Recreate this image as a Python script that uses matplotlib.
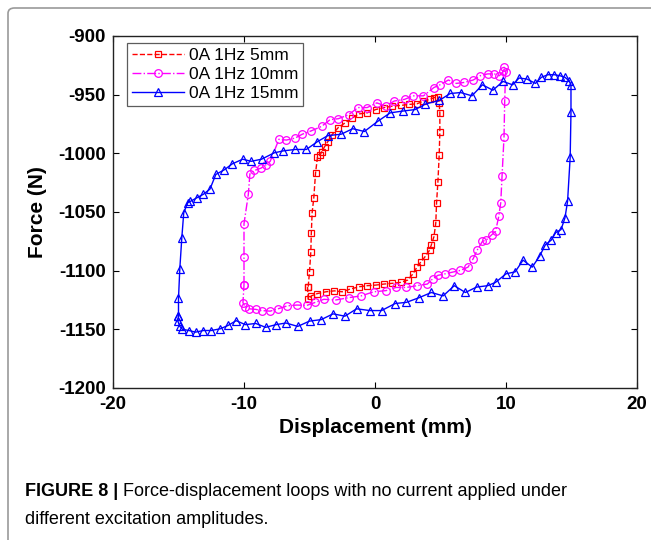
import matplotlib
matplotlib.use('Agg')
from matplotlib import pyplot as plt
from matplotlib.patches import FancyBboxPatch

plt.rcParams['font.family'] = ['Liberation Sans', 'DejaVu Sans']
plt.rcParams['axes.unicode_minus'] = False

# 0A 1Hz 5mm loop
x_5mm = [-5.1, -5.0, -4.9, -4.86, -4.8, -4.67, -4.54, -4.39, -4.2, -4.07, -3.85, -3.6, -3.3,
         -2.8, -2.3, -1.76, -1.2, -0.6, 0.05, 0.7, 1.3, 1.95, 2.6, 3.2, 3.7, 4.2, 4.5, 4.8,
         4.9, 4.95, 4.95, 4.9, 4.8, 4.7, 4.64, 4.5, 4.3, 4.17, 3.85, 3.5, 3.2, 2.9, 2.5,
         1.95, 1.3, 0.7, 0.05, -0.6, -1.2, -1.9, -2.5, -3.1, -3.75, -4.4, -4.86, -5.1, -5.15]
y_5mm = [-1113.7, -1101, -1084, -1067.5, -1050.7, -1037.7, -1017, -1003, -1001.6, -998.8, -994.4,
         -990, -984.3, -978, -974.2, -970, -966.4, -965.5, -962.7, -961, -959.8, -959.2, -958.3,
         -957.8, -955.5, -954, -952.5, -952, -956.9, -965.5, -981.4, -1001.6, -1024.7, -1042,
         -1059.4, -1071, -1078, -1082.5, -1087.7, -1092.6, -1097, -1102.7, -1108, -1110,
         -1110.8, -1111.4, -1112.3, -1112.8, -1113.7, -1115.7, -1118, -1117.2, -1118, -1119.5,
         -1121.5, -1124.4, -1113.7]

# 0A 1Hz 10mm loop
x_10mm = [-10.0, -10.0, -10.0, -9.67, -9.55, -9.2, -8.7, -8.35, -8.0, -7.33, -6.77, -6.1, -5.55,
          -4.9, -4.07, -3.43, -2.8, -2.0, -1.3, -0.6, 0.14, 0.84, 1.47, 2.26, 2.9, 3.7, 4.5,
          4.96, 5.6, 6.2, 6.8, 7.5, 8.05, 8.6, 9.1, 9.5, 9.8, 9.85, 9.97, 9.9, 9.85, 9.7, 9.6,
          9.45, 9.2, 8.9, 8.5, 8.2, 7.8, 7.5, 7.1, 6.5, 5.9, 5.35, 4.8, 4.4, 4.0, 3.2, 2.4,
          1.6, 0.84, -0.1, -1.06, -2.0, -3.0, -3.9, -4.55, -5.2, -5.97, -6.7, -7.4, -8.0,
          -8.66, -9.1, -9.6, -9.9, -10.08, -10.0]
y_10mm = [-1112, -1088, -1060, -1035, -1017.5, -1014.6, -1012.6, -1010, -1006.8, -988, -988.7,
          -987, -983.7, -981, -977, -971.3, -970.5, -967, -961, -961, -957, -959.8, -955.4,
          -954, -951, -951, -943.9, -941.6, -937.5, -940.4, -939.6, -937.5, -933.8, -932.3,
          -932.3, -933.8, -930, -926.6, -930.9, -955.4, -985.8, -1019, -1042, -1053.6,
          -1066.6, -1069.5, -1073.8, -1075, -1082.5, -1089.7, -1097, -1099.8, -1101.3,
          -1102.7, -1104, -1107, -1111.4, -1112.8, -1114.3, -1114.3, -1117, -1118, -1121.5,
          -1123, -1125, -1124.4, -1127, -1129.6, -1129.3, -1130, -1132.5, -1134.5, -1134,
          -1133, -1132.5, -1131, -1127.3, -1112]

# 0A 1Hz 15mm loop
x_15mm = [-15.0, -15.0, -14.9, -14.75, -14.6, -14.3, -14.1, -13.57, -13.1, -12.6, -12.15, -11.5,
          -10.9, -10.1, -9.45, -8.66, -7.7, -7.0, -6.1, -5.24, -4.39, -3.6, -2.58, -1.7, -0.81,
          0.2, 1.16, 2.1, 3.06, 3.85, 4.9, 5.75, 6.54, 7.4, 8.2, 9.0, 9.77, 10.5, 11.0, 11.6,
          12.25, 12.7, 13.2, 13.7, 14.1, 14.5, 14.8, 14.96, 14.96, 14.9, 14.7, 14.5, 14.2,
          13.8, 13.45, 13.0, 12.56, 12.0, 11.3, 10.7, 10.0, 9.2, 8.6, 7.75, 6.9, 6.05, 5.2,
          4.3, 3.37, 2.4, 1.54, 0.5, -0.4, -1.4, -2.3, -3.2, -4.1, -5.0, -5.9, -6.8, -7.55,
          -8.35, -9.1, -9.9, -10.6, -11.2, -11.8, -12.5, -13.1, -13.7, -14.2, -14.7, -14.9,
          -15.05, -15.0]
y_15mm = [-1138.8, -1123.5, -1098.4, -1072.4, -1050.7, -1042, -1041, -1037.7, -1034.9, -1030.5,
          -1018, -1014, -1009, -1005, -1006.8, -1005, -999.6, -997.9, -996.7, -996.7, -990,
          -984.9, -983.7, -979, -981.4, -972.8, -965.5, -964, -962.7, -958, -954.9, -949,
          -948.2, -951, -941.6, -946.2, -938.7, -941.6, -935.8, -936.7, -940.4, -935.2, -933,
          -933, -933.8, -935.2, -938, -941.6, -964.7, -1003, -1041, -1055, -1065, -1067.5,
          -1074, -1078, -1087.7, -1097, -1091, -1101, -1102.7, -1110, -1112.8, -1114,
          -1118.6, -1112.8, -1121.5, -1118.6, -1123, -1127, -1128, -1134, -1134, -1132.5,
          -1138.8, -1136.8, -1141.7, -1143, -1147.5, -1144.6, -1146, -1148.3, -1145, -1146,
          -1142.6, -1146.6, -1149.5, -1151, -1151, -1152.4, -1151, -1150, -1147.5, -1143,
          -1138.8]

labels = ['0A 1Hz 5mm', '0A 1Hz 10mm', '0A 1Hz 15mm']
x_ticks = [-20, -10, 0, 10, 20]
y_ticks = [-1200, -1150, -1100, -1050, -1000, -950, -900]


def main():
    fig = plt.figure(figsize=(6.51, 5.40), dpi=100)

    # frame around the figure panel
    frame = FancyBboxPatch((8 / 651, -0.05), 1.1, 1.05 - 8 / 540,
                           boxstyle='round,pad=0,rounding_size=0.01',
                           transform=fig.transFigure, fill=False,
                           edgecolor='#9a9a9a', linewidth=1.2)
    fig.patches.append(frame)

    ax = fig.add_axes([113 / 651, 1 - 388 / 540, (637 - 113) / 651, (388 - 36) / 540])

    ax.plot(x_5mm, y_5mm, color='red', linestyle='--', linewidth=1.0,
            marker='s', markersize=4.5, markerfacecolor='none', markeredgewidth=0.9,
            label=labels[0])
    ax.plot(x_10mm, y_10mm, color='magenta', linestyle='-.', linewidth=1.0,
            marker='o', markersize=5.5, markerfacecolor='none', markeredgewidth=0.9,
            label=labels[1])
    ax.plot(x_15mm, y_15mm, color='blue', linestyle='-', linewidth=1.0,
            marker='^', markersize=5.5, markerfacecolor='none', markeredgewidth=0.9,
            label=labels[2])

    ax.set_xlim(-20, 20)
    ax.set_ylim(-1200, -900)
    ax.set_xticks(x_ticks)
    ax.set_yticks(y_ticks)
    ax.tick_params(direction='in', top=True, right=True, length=4, width=0.8,
                   labelsize=13.5)
    ax.tick_params(axis='x', pad=6)
    ax.tick_params(axis='y', pad=5)
    for lab in ax.get_xticklabels() + ax.get_yticklabels():
        lab.set_fontweight('bold')
    for sp in ax.spines.values():
        sp.set_linewidth(1.0)
        sp.set_color('#222222')

    ax.set_xlabel('Displacement (mm)', fontsize=15, fontweight='bold', labelpad=3)
    ax.set_ylabel('Force (N)', fontsize=15, fontweight='bold', labelpad=8)

    leg = ax.legend(loc='upper left', bbox_to_anchor=(0.027, 0.98),
                    frameon=True, fancybox=False, handlelength=3.0, handletextpad=0.25,
                    borderpad=0.3, labelspacing=0.2, borderaxespad=0.0,
                    prop={'size': 12.5})
    leg.get_frame().set_edgecolor('#333333')
    leg.get_frame().set_linewidth(0.9)

    # caption
    fig.text(25 / 651, 1 - 491 / 540, 'FIGURE 8 |', fontsize=13, fontweight='bold',
             va='center', ha='left')
    fig.text(123 / 651, 1 - 491 / 540,
             'Force-displacement loops with no current applied under',
             fontsize=13, va='center', ha='left')
    fig.text(25 / 651, 1 - 519 / 540, 'different excitation amplitudes.',
             fontsize=13, va='center', ha='left')

    plt.savefig('out.png', dpi=100)


if __name__ == '__main__':
    main()
